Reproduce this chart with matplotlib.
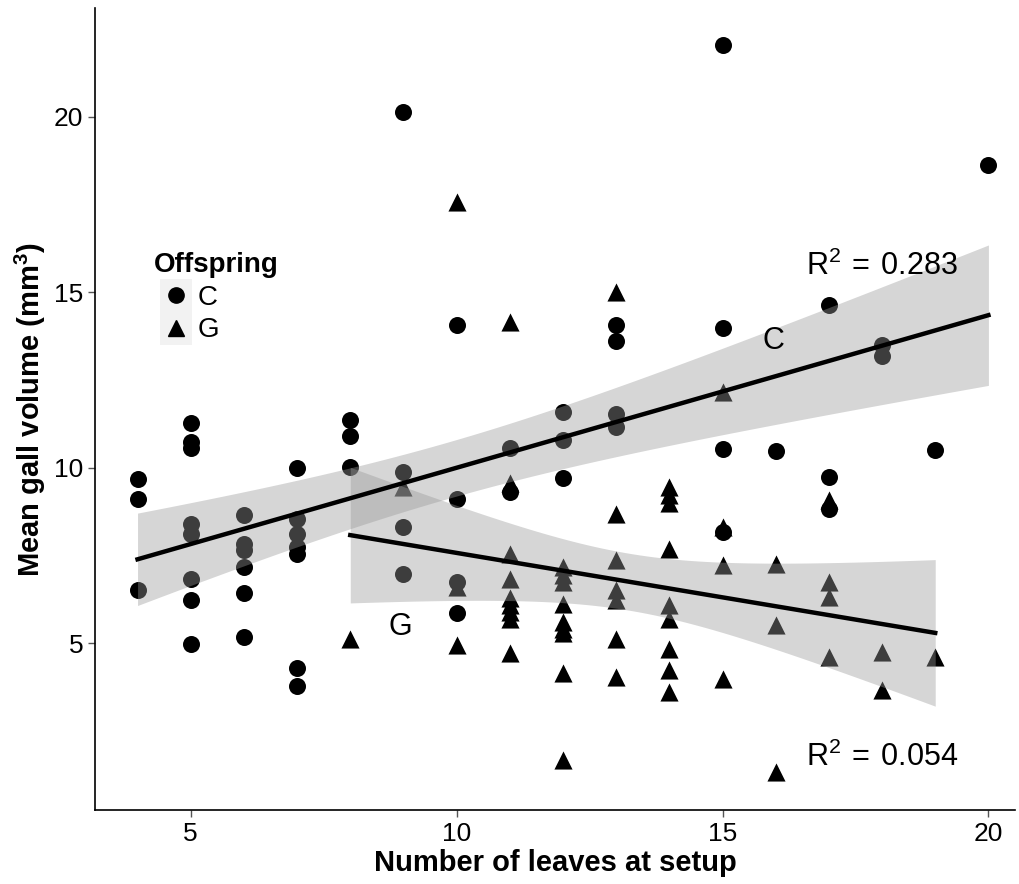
import numpy as np
import matplotlib
matplotlib.use("Agg")
import matplotlib.pyplot as plt
from matplotlib.lines import Line2D
from matplotlib.patches import Rectangle

plt.rcParams['font.family'] = ['Liberation Sans', 'DejaVu Sans']
plt.rcParams['mathtext.fontset'] = 'custom'
plt.rcParams['mathtext.rm'] = 'Liberation Sans'
plt.rcParams['mathtext.bf'] = 'Liberation Sans:bold'

# offspring C (circles)
c_x = [4, 4, 4,
       5, 5, 5, 5, 5, 5, 5, 5,
       6, 6, 6, 6, 6, 6,
       7, 7, 7, 7, 7, 7, 7,
       8, 8, 8,
       9, 9, 9, 9,
       10, 10, 10, 10,
       11, 11,
       12, 12, 12,
       13, 13, 13, 13,
       15, 15, 15, 15,
       16,
       17, 17, 17,
       18, 18,
       19,
       20]
c_y = [9.67, 9.10, 6.51,
       11.29, 10.74, 10.55, 8.41, 8.12, 6.84, 6.22, 4.99,
       8.65, 7.84, 7.65, 7.17, 6.44, 5.18,
       9.98, 8.55, 8.12, 7.74, 7.55, 4.31, 3.78,
       11.37, 10.90, 10.01,
       20.13, 9.88, 8.32, 6.96,
       14.06, 9.12, 6.75, 5.85,
       10.55, 9.31,
       11.59, 10.78, 9.71,
       14.06, 13.61, 11.54, 11.16,
       22.06, 13.97, 10.53, 8.18,
       10.47,
       14.63, 9.74, 8.84,
       13.49, 13.18,
       10.50,
       18.62]

# offspring G (triangles)
g_x = [8,
       9,
       10, 10, 10,
       11, 11, 11, 11, 11, 11, 11, 11, 11,
       12, 12, 12, 12, 12, 12, 12, 12, 12,
       13, 13, 13, 13, 13, 13, 13,
       14, 14, 14, 14, 14, 14, 14, 14, 14,
       15, 15, 15, 15,
       16, 16, 16,
       17, 17, 17, 17,
       18, 18,
       19]
g_y = [5.13,
       9.45,
       17.57, 6.60, 4.94,
       14.15, 9.56, 7.55, 6.84, 6.28, 6.08, 5.89, 5.70, 4.71,
       7.17, 6.95, 6.75, 6.13, 5.61, 5.42, 5.28, 4.14, 1.67,
       15.00, 8.69, 7.36, 6.51, 6.22, 5.13, 4.04,
       9.45, 9.22, 8.99, 7.70, 6.08, 5.70, 4.85, 4.23, 3.61,
       12.16, 8.32, 7.22, 3.99,
       7.27, 5.51, 1.33,
       9.07, 6.75, 6.32, 4.61,
       4.75, 3.66,
       4.61]

r2_labels = ['R$^{\\mathregular{2}}$$\\mathregular{\\,=\\,0.283}$',
             'R$^{\\mathregular{2}}$$\\mathregular{\\,=\\,0.054}$']


def fit_band(x, y):
    x = np.asarray(x, float)
    y = np.asarray(y, float)
    n = len(x)
    b, a = np.polyfit(x, y, 1)
    resid = y - (a + b * x)
    s = np.sqrt(np.sum(resid ** 2) / (n - 2))
    try:
        from scipy import stats
        t = stats.t.ppf(0.975, n - 2)
    except ImportError:
        t = 2.01
    xs = np.linspace(x.min(), x.max(), 80)
    fit = a + b * xs
    se = s * np.sqrt(1 / n + (xs - x.mean()) ** 2 / np.sum((x - x.mean()) ** 2))
    return xs, fit, fit - t * se, fit + t * se


fig = plt.figure(figsize=(10.2, 8.84), dpi=100)
ax = fig.add_axes([95 / 1020, 1 - 810 / 884, 920 / 1020, 802 / 884])

ax.scatter(c_x, c_y, marker='o', s=150, color='black', linewidths=0, zorder=2)
ax.scatter(g_x, g_y, marker='^', s=170, color='black', linewidths=0, zorder=2)

for xs_, ys_ in [(c_x, c_y), (g_x, g_y)]:
    xs, fit, lo, hi = fit_band(xs_, ys_)
    ax.fill_between(xs, lo, hi, color='#999999', alpha=0.4, linewidth=0, zorder=3)
    ax.plot(xs, fit, color='black', lw=3.2, zorder=4)

ax.text(18.0, 15.75, r2_labels[0], fontsize=22, ha='center', va='center')
ax.text(18.0, 1.75, r2_labels[1], fontsize=22, ha='center', va='center')
ax.text(15.95, 13.6, 'C', fontsize=22, ha='center', va='center')
ax.text(8.95, 5.45, 'G', fontsize=22, ha='center', va='center')

ax.set_xlim(3.2, 20.5)
ax.set_ylim(0.25, 23.1)
ax.set_xticks([5, 10, 15, 20])
ax.set_yticks([5, 10, 15, 20])
ax.tick_params(labelsize=19, labelcolor='black', color='#555555', length=5, width=1)
ax.spines['top'].set_visible(False)
ax.spines['right'].set_visible(False)
ax.spines['left'].set_linewidth(1.2)
ax.spines['bottom'].set_linewidth(1.2)

ax.set_xlabel('Number of leaves at setup', fontsize=21, fontweight='bold', labelpad=2)
ax.set_ylabel('Mean gall volume (mm$^{\\mathbf{3}}$)', fontsize=21, fontweight='bold', labelpad=4)

# legend with grey key boxes
for yy in [278.5, 311.5]:
    ax.add_patch(Rectangle((160 / 1020, 1 - (yy + 33) / 884), 32 / 1020, 33 / 884,
                           transform=fig.transFigure, facecolor='#F2F2F2',
                           edgecolor='none', zorder=0.5, clip_on=False))
handles = [Line2D([], [], marker='o', ls='none', color='black', markersize=11),
           Line2D([], [], marker='^', ls='none', color='black', markersize=11)]
leg = ax.legend(handles, ['C', 'G'], title='Offspring', loc='upper left',
                bbox_to_anchor=(134 / 1020, 1 - 233 / 884), bbox_transform=fig.transFigure,
                frameon=False, fontsize=20, handletextpad=0.0, labelspacing=0.23,
                handlelength=1.6, borderpad=0.2,
                title_fontproperties={'weight': 'bold', 'size': 20}, alignment='left')

fig.savefig('out.png', dpi=100)
